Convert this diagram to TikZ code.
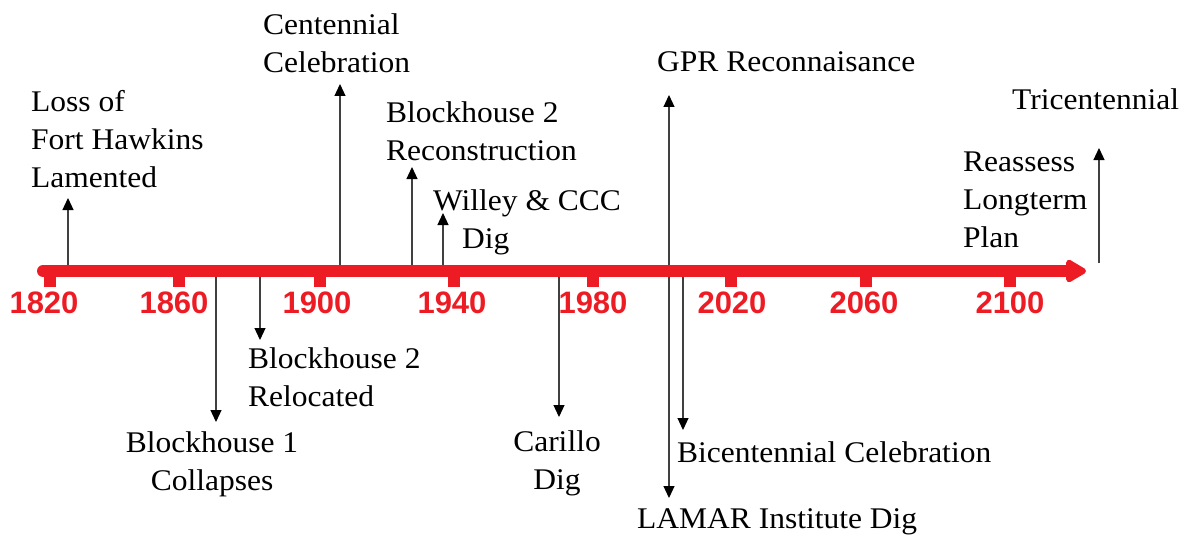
\documentclass[tikz,border=0pt]{standalone}
\usepackage{fontspec}
\setmainfont{Liberation Serif}[FakeStretch=1.05]
\newfontfamily\yearfont{Liberation Sans}
\usetikzlibrary{arrows.meta}
\definecolor{tlred}{HTML}{ED1C24}
\begin{document}
\begin{tikzpicture}[x=1pt,y=-1pt,
  evt/.style={draw=black!75, line width=1.2pt, -{Triangle[width=11pt,length=12pt,color=black]}},
  lbl/.style={font=\fontsize{30}{38}\selectfont, inner sep=0pt, align=left},
  lblc/.style={lbl, align=center},
  yr/.style={font=\yearfont\bfseries\fontsize{31}{36}\selectfont, text=tlred, inner sep=0pt, anchor=base},
  tick/.style={fill=tlred}]
\useasboundingbox (0,0) rectangle (1187,535);
% event arrows
\foreach \n/\x/\t in {loss/68/198, cent/340/84, recon/412/167, willey/443/213, gpr/669/95,
                      reloc/260/340, coll/216/422, car/559/417, lamar/669/498, bicent/683/430}{
  \coordinate (\n A) at (\x,271);
  \coordinate (\n T) at (\x,\t);
  \draw[evt] (\n A) -- (\n T);
}
\coordinate (triA) at (1099,263);
\coordinate (triT) at (1099,148);
\draw[evt] (triA) -- (triT);
% axis
\coordinate (ax0) at (43,271);
\coordinate (ax1) at (1086,271);
\foreach \x in {50,179,320,454,593,731,866,1010}{
  \fill[tick] (\x-6,271) rectangle (\x+6,287);
}
\draw[tlred, line width=12pt, line cap=round, -{Triangle[length=23pt,width=25pt,round]}] (ax0) -- (ax1);
% years
\node[yr] (y1820) at (44,313) {1820};
\node[yr] (y1860) at (174,313) {1860};
\node[yr] (y1900) at (317,313) {1900};
\node[yr] (y1940) at (452,313) {1940};
\node[yr] (y1980) at (593,313) {1980};
\node[yr] (y2020) at (732,313) {2020};
\node[yr] (y2060) at (864,313) {2060};
\node[yr] (y2100) at (1010,313) {2100};
% labels (multi-line nodes: base anchor = last line's baseline)
\node[lbl, anchor=base west] (loss) at (31,187) {Loss of\\Fort Hawkins\\Lamented};
\node[lbl, anchor=base west] (cent) at (263,73) {Centennial\\Celebration};
\node[lbl, anchor=base west] (recon) at (386,160) {Blockhouse 2\\Reconstruction};
\node[lbl, anchor=base west] (willey) at (433,248) {Willey \& CCC\\\hspace*{29pt}Dig};
\node[lbl, anchor=base west] (gpr) at (657,72) {GPR Reconnaisance};
\node[lbl, anchor=base west] (reloc) at (248,406) {Blockhouse 2\\Relocated};
\node[lblc, anchor=base] (coll) at (212,490) {Blockhouse 1\\Collapses};
\node[lblc, anchor=base] (car) at (557,489) {Carillo\\Dig};
\node[lbl, anchor=base west] (lamar) at (637,528) {LAMAR Institute Dig};
\node[lbl, anchor=base west] (bicent) at (677,462) {Bicentennial Celebration};
\node[lbl, anchor=base west] (reassess) at (963,247) {Reassess\\Longterm\\Plan};
\node[lbl, anchor=base west] (tri) at (1012,110) {Tricentennial};
\end{tikzpicture}
\end{document}
